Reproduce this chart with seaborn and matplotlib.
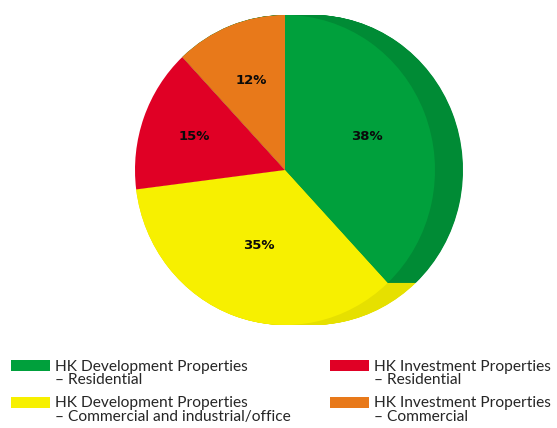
import matplotlib
matplotlib.use("Agg")
import matplotlib.pyplot as plt
import matplotlib.patches as mpatches
from matplotlib.legend_handler import HandlerPatch
import seaborn as sns

sns.set_style("white")
plt.rcParams['font.family'] = ['Lato', 'DejaVu Sans']

# ---- data ----
categories = [
    "HK Development Properties\n– Residential",
    "HK Development Properties\n– Commercial and industrial/office",
    "HK Investment Properties\n– Residential",
    "HK Investment Properties\n– Commercial",
]
shares = [38, 35, 15, 12]
front_colors = ["#00A03C", "#F7F000", "#E00025", "#E8791A"]
side_colors = ["#008B35", "#E6E000", "#008B35", "#008B35"]
label_dist = [0.59, 0.52, 0.64, 0.62]

W, H = 557, 428
fig = plt.figure(figsize=(W / 100, H / 100), dpi=100)
ax = fig.add_axes([0, 0, 1, 1])

sy = 155 / 150.0
Hu = H / sy
cx, cy, r = 285, (H - 170) / sy, 150
depth = 28

# side (extrusion) – yellow first, then green on top
n = 57
for i in range(n):
    dx = depth * i / (n - 1)
    ax.pie(shares, colors=["none", side_colors[1], "none", "none"], startangle=90,
           counterclock=False, center=(cx + dx, cy), radius=r,
           wedgeprops=dict(linewidth=0, antialiased=True))
for i in range(n):
    dx = depth * i / (n - 1)
    ax.pie(shares, colors=[side_colors[0], "none", "none", side_colors[3]], startangle=90,
           counterclock=False, center=(cx + dx, cy), radius=r,
           wedgeprops=dict(linewidth=0, antialiased=True))

wedges, texts, autotexts = ax.pie(
    shares, colors=front_colors, startangle=90, counterclock=False,
    center=(cx, cy), radius=r, autopct=lambda p: f"{p:.0f}%", pctdistance=0.6,
    wedgeprops=dict(linewidth=0),
    textprops=dict(fontsize=9.5, fontweight="bold", color="#0A0A0A",
                   family=["DejaVu Sans"]))
for t, f in zip(autotexts, label_dist):
    x, y = t.get_position()
    t.set_position((cx + (x - cx) / 0.6 * f, cy + (y - cy) / 0.6 * f))

ax.set_aspect("auto")
ax.set_xlim(0, W)
ax.set_ylim(0, Hu)
ax.axis("off")

fs = 11.2
shift = 8.0 * 72 / 100  # raise legend swatch to the first text line (points)


def top_rect(legend, orig_handle, xdescent, ydescent, width, height, fontsize):
    return mpatches.Rectangle((-xdescent, -ydescent + shift), width, height)


leg = fig.legend(wedges, categories, loc="upper left", bbox_to_anchor=(10.7 / W, 1 - 359.5 / H),
                 ncol=2, frameon=False, fontsize=fs, handlelength=2.53, handleheight=0.69,
                 handletextpad=0.32, columnspacing=2.49, labelspacing=0.55,
                 borderpad=0, borderaxespad=0,
                 handler_map={mpatches.Wedge: HandlerPatch(patch_func=top_rect)})
for t in leg.get_texts():
    t.set_color("#262626")
    t.set_linespacing(1.0)

fig.savefig("out.png", dpi=100, facecolor="white")
